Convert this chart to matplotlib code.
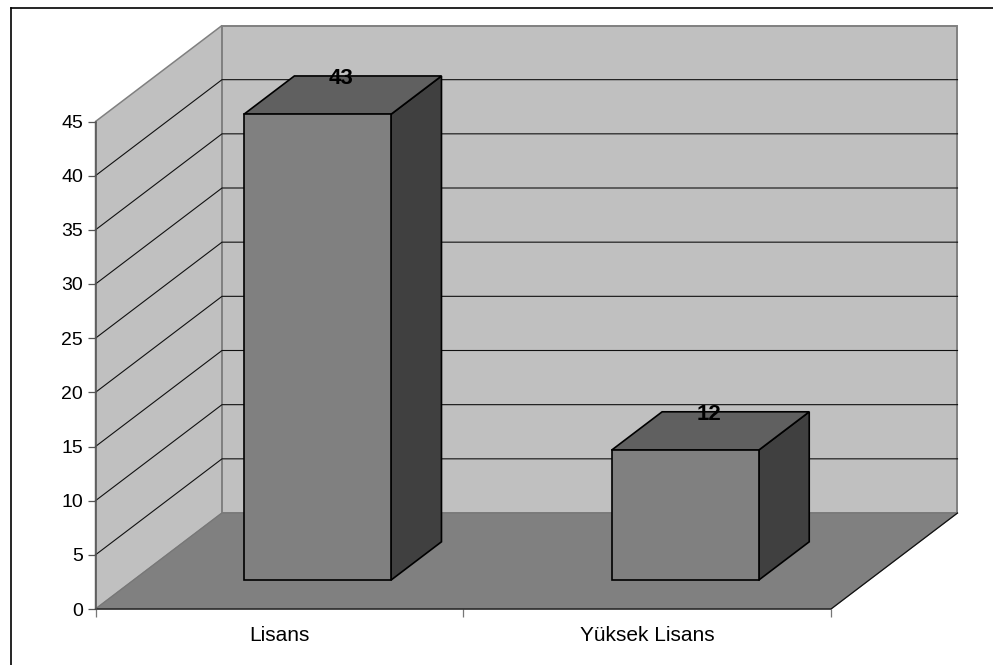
import matplotlib
matplotlib.use("Agg")
import matplotlib.pyplot as plt
from matplotlib.lines import Line2D

plt.rcParams["font.family"] = ["Liberation Sans", "DejaVu Sans"]

categories = ["Lisans", "Yüksek Lisans"]
values = [43, 12]
y_ticks = [0, 5, 10, 15, 20, 25, 30, 35, 40, 45]

# Globals
W, H = 993, 665
left_px, right_px = 95.5, 831.0
bottom_px, top_px = 609.0, 121.5
y_max = 45
# how far the back wall sits from the front plane, in data units
depth_x = 126.5 / ((right_px - left_px) / len(categories))
depth_y = 96.0 / ((bottom_px - top_px) / y_max)
bar_width = 0.4
bar_d0, bar_d1 = 0.3, 0.7  # bar position along the depth


def proj(x, y, d):
    # data point at depth d (0 front, 1 back) -> front plane coordinates
    return x + d * depth_x, y + d * depth_y


def face(ax, pts, color, edge=None, lw=0.0, z=1):
    xy = [proj(*p) for p in pts]
    ax.fill([p[0] for p in xy], [p[1] for p in xy], facecolor=color,
            edgecolor=edge if edge else color, linewidth=lw, zorder=z,
            clip_on=False, joinstyle="miter")


fig = plt.figure(figsize=(W / 100, H / 100), dpi=100)
ax = fig.add_axes([left_px / W, 1 - bottom_px / H,
                   (right_px - left_px) / W, (bottom_px - top_px) / H])
ax.patch.set_visible(False)
n = len(categories)
ax.set_xlim(0, n)
ax.set_ylim(0, y_max)

# walls and floor
face(ax, [(0, 0, 0), (0, y_max, 0), (0, y_max, 1), (0, 0, 1)], "#C0C0C0", "#808080", 1.1, 1)
face(ax, [(0, 0, 1), (0, y_max, 1), (n, y_max, 1), (n, 0, 1)], "#C0C0C0", "#808080", 1.4, 1)
face(ax, [(0, 0, 0), (n, 0, 0), (n, 0, 1), (0, 0, 1)], "#808080", "#777777", 0.8, 2)

# gridlines on both walls
for v in y_ticks[1:-1]:
    xs, ys = zip(proj(0, v, 0), proj(0, v, 1), proj(n, v, 1))
    ax.plot(xs, ys, color="#111111", lw=0.8, zorder=1.5, clip_on=False)

# floor front and right edges
xs, ys = zip(proj(0, 0, 0), proj(n, 0, 0), proj(n, 0, 1))
ax.plot(xs, ys, color="#111111", lw=0.9, zorder=3, clip_on=False)

# bars
for i, val in enumerate(values):
    x0 = i + 0.5 - bar_width / 2
    x1 = i + 0.5 + bar_width / 2
    face(ax, [(x1, 0, bar_d0), (x1, val, bar_d0), (x1, val, bar_d1), (x1, 0, bar_d1)],
         "#404040", "black", 1.2, 4)
    face(ax, [(x0, val, bar_d0), (x1, val, bar_d0), (x1, val, bar_d1), (x0, val, bar_d1)],
         "#606060", "black", 1.2, 4)
    face(ax, [(x0, 0, bar_d0), (x1, 0, bar_d0), (x1, val, bar_d0), (x0, val, bar_d0)],
         "#808080", "black", 1.2, 5)
    # label: mid depth across, back edge of the top face down
    lx = proj(i + 0.5, val, 0.5)[0] - 0.004
    ly = proj(i + 0.5, val, bar_d1)[1]
    ax.text(lx, ly, str(val), ha="center", va="center_baseline", fontsize=16,
            fontweight="bold", color="black", zorder=6, clip_on=False)

# axes
for s in ["top", "right", "bottom"]:
    ax.spines[s].set_visible(False)
ax.spines["left"].set_color("#555555")
ax.spines["left"].set_linewidth(1.1)
ax.spines["left"].set_zorder(3)

ax.set_yticks(y_ticks)
ax.tick_params(axis="y", length=6, width=0.9, color="#555555", labelsize=14, pad=3)
ax.set_xticks(range(n + 1))
ax.set_xticklabels([])
ax.set_xticks([i + 0.5 for i in range(n)], labels=categories, minor=True)
ax.tick_params(axis="x", which="major", length=6, width=0.9, color="#777777")
ax.tick_params(axis="x", which="minor", length=0, labelsize=15, pad=12.5)

# chart border, only left and top fall inside the picture
border_x, border_y = 10.5 / W, 1 - 8.0 / H
fig.add_artist(Line2D([border_x, border_x], [0, border_y], color="black", lw=1.2))
fig.add_artist(Line2D([border_x, 1], [border_y, border_y], color="black", lw=1.2))

fig.savefig("out.png", dpi=100)
